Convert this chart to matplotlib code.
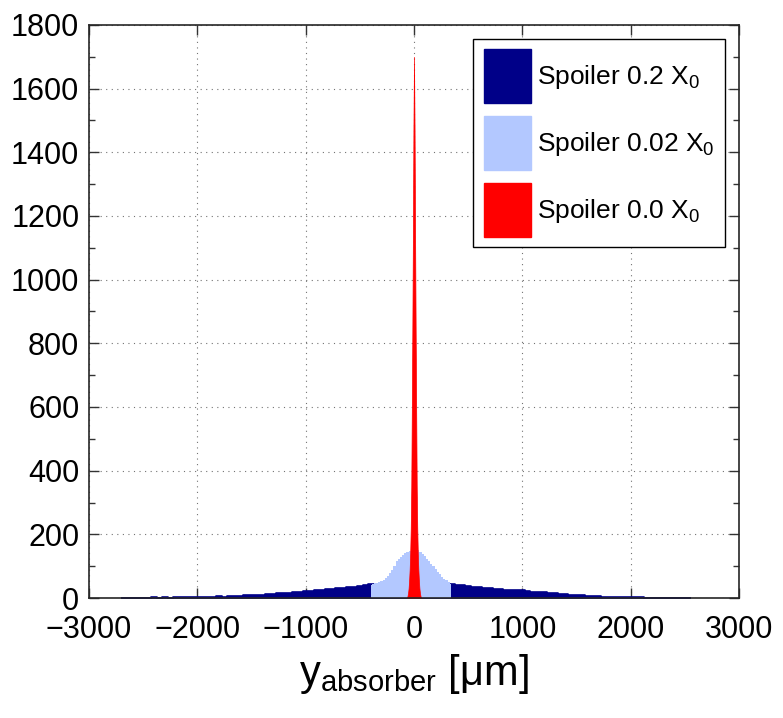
"""Beam spot at the absorber for three spoiler thicknesses (MATLAB-style histogram)."""

import matplotlib

matplotlib.use("Agg")

import matplotlib.pyplot as plt
import numpy as np
from matplotlib.patches import Patch
from matplotlib.ticker import MultipleLocator

plt.rcParams["font.family"] = ["Liberation Sans", "DejaVu Sans"]
plt.rcParams["mathtext.fontset"] = "custom"
plt.rcParams["mathtext.rm"] = "Liberation Sans"
plt.rcParams["mathtext.it"] = "Liberation Sans:italic"

# spoiler 0.2 X0: 50 um bins, left tail, core, right tail
thick_left_x = list(range(-2700, -399, 50))
thick_left = [0.5, 0.6, 1, 0.8, 1.2, 1, 1.6, 1.1, 2, 1.5, 2.2, 1.8, 2.7, 2.1, 3.2, 2.8,
              4.2, 3.4, 5.1, 4.6, 6.3, 7.2, 6.6, 8.4, 9.1, 10.5, 9.6, 12.4, 11.7, 14.2,
              15.3, 16.1, 18.4, 18.9, 22.1, 21.3, 24.5, 25.8, 27.2, 28.1, 31.4, 31.8,
              34.2, 35.1, 38.3, 39.6, 42.5]
thick_core_x = list(range(-350, 301, 50))
thick_core = [44, 46, 47, 48, 49, 50, 50, 50, 49, 48, 47, 46, 45, 44]
thick_right_x = list(range(350, 2551, 50))
thick_right = [44.2, 41.6, 40.3, 37.8, 35.4, 33.6, 32.5, 30.6, 29.3, 27.1, 26.4, 24.6,
               24.2, 23.7, 22.4, 20.3, 19.2, 18.1, 16.6, 15.2, 13.8, 12.3, 10.9, 9.2,
               8.1, 6.8, 6.2, 5.1, 4.6, 4.1, 3.4, 3.1, 2.7, 2.4, 2.1, 1.8, 1.5, 1.4,
               1.1, 1, 0.9, 0.6, 0.5, 0.5, 0.4]

# spoiler 0.02 X0: 20 um bins around the centre
medium_x = list(range(-400, 341, 20))
medium = [42, 44, 46, 47, 50, 53, 58, 64, 70, 78, 89, 101, 117, 121, 129, 134, 141, 146,
          148, 153, 156, 151, 150, 145, 138, 131, 123, 116, 108, 100, 92, 82, 74, 66,
          60, 55, 50, 45]

# no spoiler: 5 um bins
thin_x = list(range(-65, 66, 5))
thin = [0, 6, 15, 30, 55, 90, 140, 220, 350, 600, 850, 1150, 1480, 1700, 1480, 1150,
        850, 600, 350, 220, 140, 90, 55, 30, 15, 6, 0]

labels = [r"Spoiler 0.2 X$_\mathrm{0}$", r"Spoiler 0.02 X$_\mathrm{0}$",
          r"Spoiler 0.0 X$_\mathrm{0}$"]
colors = ["#000088", "#b3c8ff", "#ff0000"]


def main() -> None:
    fig = plt.figure(figsize=(7.83, 7.18), dpi=100)
    ax = fig.add_axes([89 / 783, 120 / 718, 650 / 783, 573 / 718])

    wide_x = np.array(thick_left_x + thick_core_x + thick_right_x)
    wide_y = np.array(thick_left + thick_core + thick_right)
    ax.fill_between(wide_x, wide_y, step="mid", color=colors[0], lw=1.2)
    ax.fill_between(medium_x, medium, step="mid", color=colors[1], lw=0)
    ax.fill_between(thin_x, thin, color=colors[2], lw=0.5)

    ax.set_xlim(-3000, 3000)
    ax.set_ylim(0, 1800)
    ax.xaxis.set_major_locator(MultipleLocator(1000))
    ax.yaxis.set_major_locator(MultipleLocator(200))
    ax.yaxis.set_minor_locator(MultipleLocator(100))
    ax.set_xticklabels([f"{int(v)}".replace("-", "\u2212") for v in ax.get_xticks()])
    ax.tick_params(which="both", direction="in", top=True, right=True, labelsize=22,
                   width=1, color="0.2")
    ax.tick_params(which="major", length=7)
    ax.tick_params(which="minor", length=4)
    ax.tick_params(axis="x", pad=12)
    ax.tick_params(axis="y", pad=7)
    ax.grid(True, which="major", linestyle=(0, (1, 4)), color="0.45", lw=0.8)
    ax.set_axisbelow(True)
    for spine in ax.spines.values():
        spine.set_linewidth(1.2)
        spine.set_color("0.15")

    ax.set_xlabel(r"y$_\mathrm{absorber}$ [$\mathrm{\mu}$m]", fontsize=30, labelpad=5)

    handles = [Patch(facecolor=c, edgecolor=c) for c in colors]
    leg = ax.legend(handles, labels, loc="upper right", bbox_to_anchor=(0.978, 0.976),
                    fontsize=19, frameon=True, fancybox=False, framealpha=1,
                    edgecolor="black", handlelength=1.8, handleheight=2.75,
                    handletextpad=0.2, labelspacing=0.5, borderpad=0.4,
                    borderaxespad=0)
    leg.get_frame().set_linewidth(1.0)

    fig.savefig("out.png", dpi=100)
    plt.close(fig)


if __name__ == "__main__":
    main()
